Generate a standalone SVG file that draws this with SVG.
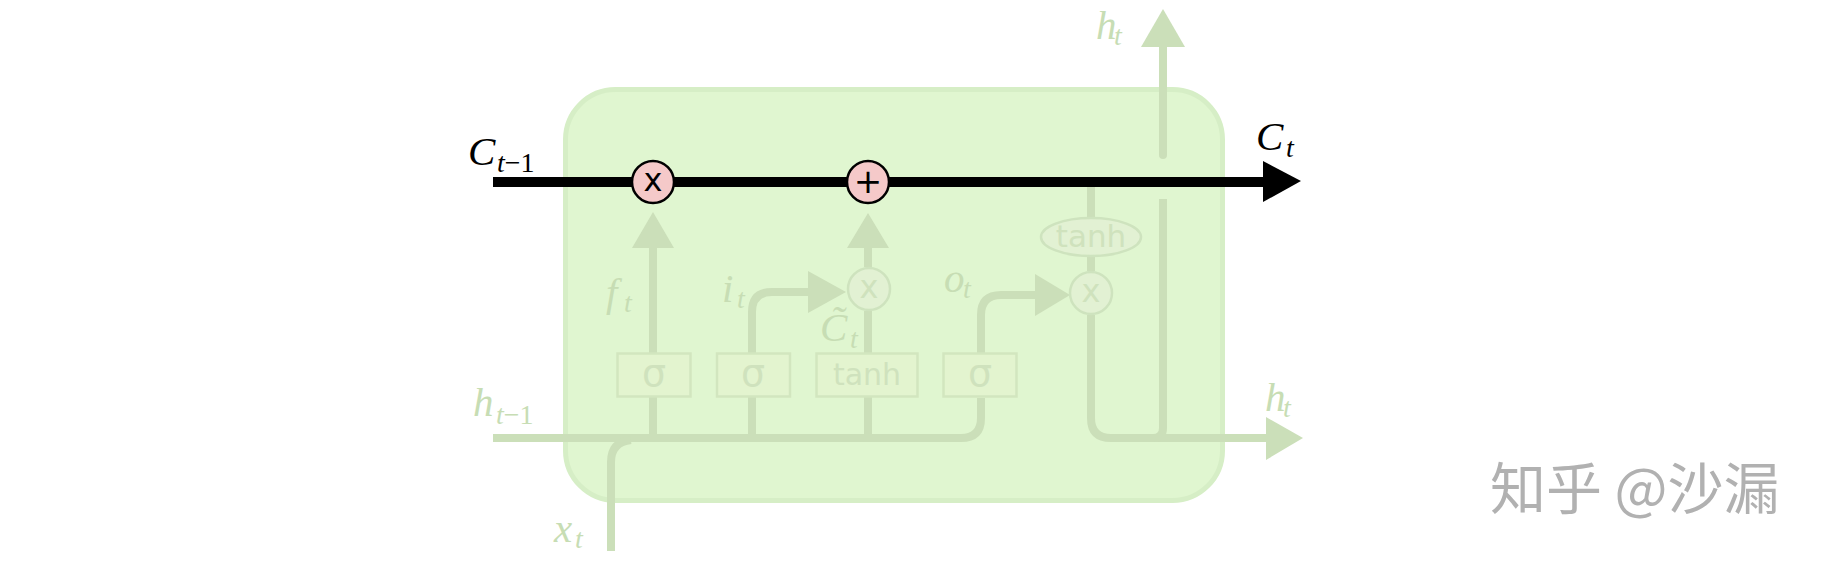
<svg xmlns="http://www.w3.org/2000/svg" width="1826" height="564" viewBox="0 0 1826 564">
<style>
.wire{fill:none;stroke:#cbdfb9;stroke-width:8;stroke-linecap:butt}
.wr{fill:none;stroke:#cbdfb9;stroke-width:8;stroke-linecap:round}
.head{fill:#cbdfb9}
.gate{fill:#e3f4cf;stroke:#d2e6bf;stroke-width:2.5}
.gtxt{font-family:"DejaVu Sans",sans-serif;fill:#cfe2bd;text-anchor:middle}
.op{fill:#e2f1d3;stroke:#cee3be;stroke-width:2.5}
.pink{fill:#f5c9c9;stroke:#000;stroke-width:2.5}
.lbl{font-family:"Liberation Serif","DejaVu Serif",serif;font-style:italic;font-size:41px;fill:#c7ddb4}
.sub{font-size:28px}
.up{font-style:normal}
.blk{fill:#000}
</style>
<g id="cell">
<rect x="565.5" y="89.5" width="657" height="411" rx="50" ry="50" fill="#e0f6d0" stroke="#d6eec6" stroke-width="5"/>
</g>
<g id="connectors">
<path class="wire" d="M493 438 L961 438 Q981 438 981 418 L981 398"/>
<path class="wire" d="M611 551 L611 462 Q611 442 631 440"/>
<path class="wire" d="M653 438 L653 246"/>
<polygon class="head" points="632,248 674,248 653,212"/>
<path class="wire" d="M752 438 L752 352 L752 312 Q752 292 772 292 L810 292"/>
<polygon class="head" points="808,271 808,313 846,292"/>
<path class="wire" d="M868 438 L868 311"/>
<path class="wire" d="M868 267 L868 246"/>
<polygon class="head" points="847,248 889,248 868,213"/>
<path class="wire" d="M981 353 L981 315 Q981 295 1001 295 L1037 295"/>
<polygon class="head" points="1035,274 1035,316 1070,295"/>
<path class="wire" d="M1091 182 L1091 271"/>
<path class="wire" d="M1091 315 L1091 418 Q1091 438 1111 438 L1268 438"/>
<polygon class="head" points="1266,417 1266,460 1303,438"/>
<path class="wire" d="M1163 199 L1163 428 Q1163 438 1153 438"/>
<path class="wr" d="M1163 155 L1163 45"/>
<polygon class="head" points="1141,47 1185,47 1163,9"/>
<path fill="none" stroke="#000" stroke-width="10" d="M493 182 L1265 182"/>
<polygon fill="#000" points="1263,161 1263,202 1301,181"/>
</g>
<g id="gate-f">
<rect class="gate" x="617.5" y="353.5" width="73" height="43"/>
<text class="gtxt" x="654" y="386" font-size="38">σ</text>
</g>
<g id="gate-i">
<rect class="gate" x="717" y="353.5" width="73" height="43"/>
<text class="gtxt" x="753" y="386" font-size="38">σ</text>
</g>
<g id="gate-tanh">
<rect class="gate" x="816.5" y="353.5" width="101" height="43"/>
<text class="gtxt" x="867" y="385" font-size="30">tanh</text>
</g>
<g id="gate-o">
<rect class="gate" x="943.5" y="353.5" width="73" height="43"/>
<text class="gtxt" x="980" y="386" font-size="38">σ</text>
</g>
<g id="tanh-out">
<ellipse class="op" cx="1091" cy="237" rx="50" ry="19"/>
<text class="gtxt" x="1091" y="247" font-size="31">tanh</text>
</g>
<g id="mul-i">
<circle class="op" cx="869" cy="289" r="21"/>
<text class="gtxt" x="869" y="298" font-size="32">x</text>
</g>
<g id="mul-o">
<circle class="op" cx="1091" cy="293" r="21"/>
<text class="gtxt" x="1091" y="302" font-size="32">x</text>
</g>
<g id="mul-f">
<circle class="pink" cx="653" cy="182" r="21"/>
<text class="gtxt blk" x="653" y="191" font-size="32">x</text>
</g>
<g id="add">
<circle class="pink" cx="868" cy="182" r="21"/>
<text class="gtxt blk" x="868" y="193" font-size="34">+</text>
</g>
<g id="labels">
<text class="lbl blk" x="468" y="165">C<tspan class="sub" x="497" y="172">t</tspan><tspan class="sub up" y="172">−1</tspan></text>
<text class="lbl blk" x="1256" y="150">C<tspan class="sub" x="1286" y="157">t</tspan></text>
<text class="lbl" x="1096" y="39">h<tspan class="sub" x="1114" y="45">t</tspan></text>
<text class="lbl" x="606" y="306">f<tspan class="sub" x="624" y="312">t</tspan></text>
<text class="lbl" x="722" y="302">i<tspan class="sub" x="737" y="308">t</tspan></text>
<text class="lbl" x="820" y="341">C̃<tspan class="sub" x="850" y="348">t</tspan></text>
<text class="lbl" x="944" y="292">o<tspan class="sub" x="963" y="298">t</tspan></text>
<text class="lbl" x="473" y="416">h<tspan class="sub" x="496" y="424">t</tspan><tspan class="sub up" y="424">−1</tspan></text>
<text class="lbl" x="1265" y="411">h<tspan class="sub" x="1283" y="417">t</tspan></text>
<text class="lbl" x="554" y="542">x<tspan class="sub" x="575" y="548">t</tspan></text>
</g>
<g id="watermark">
<text x="1490" y="509" font-family="'Noto Sans CJK SC',sans-serif" font-size="56" fill="#b1b1b1">知乎 @沙漏</text>
</g>
</svg>
